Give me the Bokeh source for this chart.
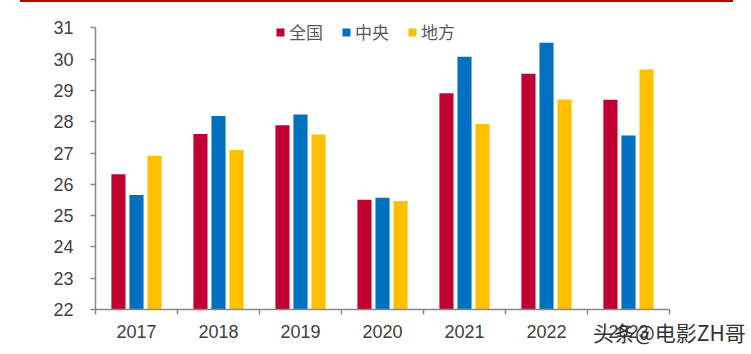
import numpy as np
from bokeh.plotting import figure
from bokeh.models import (ColumnDataSource, Range1d, FixedTicker, Legend, LegendItem, Div)
from bokeh.layouts import column
from bokeh.transform import dodge
from bokeh.embed import file_html
from bokeh.resources import INLINE

years = ["2017", "2018", "2019", "2020", "2021", "2022", "2023"]
quanguo = [26.32, 27.61, 27.89, 25.51, 28.91, 29.53, 28.70]
zhongyang = [25.66, 28.18, 28.23, 25.57, 30.08, 30.52, 27.56]
difang = [26.91, 27.10, 27.59, 25.47, 27.93, 28.71, 29.67]
series_names = ["全国", "中央", "地方"]
series_keys = ["quanguo", "zhongyang", "difang"]
colors = ["#C00031", "#0070C0", "#FFC000"]
y_ticks = list(range(22, 32))
watermark = "头条@电影ZH哥"

xpos = np.arange(len(years)) + 0.5
src = ColumnDataSource(dict(x=xpos, quanguo=quanguo, zhongyang=zhongyang, difang=difang))

p = figure(width=751, height=352, x_range=Range1d(0, len(years)), y_range=Range1d(22, 31.65),
           output_backend="svg", toolbar_location=None,
           min_border_left=95, min_border_right=82, min_border_top=5, min_border_bottom=45)
p.title.visible = False
p.outline_line_color = None
p.xgrid.visible = False
p.ygrid.visible = False
p.background_fill_color = "white"
p.border_fill_color = "white"

offsets = [-0.22, 0.0, 0.22]
renderers = []
for key, off, col in zip(series_keys, offsets, colors):
    r = p.vbar(x=dodge("x", off, range=p.x_range), top=key, bottom=22, width=0.172,
               source=src, fill_color=col, line_color=None)
    renderers.append(r)

axis_color = "#898989"
label_color = "#404040"

xa = p.xaxis[0]
xa.ticker = FixedTicker(ticks=list(xpos), minor_ticks=list(range(len(years) + 1)))
xa.major_label_overrides = {float(v): y for v, y in zip(xpos, years)}
xa.major_tick_out = 0
xa.major_tick_in = 0
xa.minor_tick_out = 5
xa.minor_tick_in = 0
xa.minor_tick_line_color = axis_color
xa.minor_tick_line_width = 1.5
xa.axis_line_color = axis_color
xa.axis_line_width = 1.5
xa.major_label_text_font = "Liberation Sans"
xa.major_label_text_font_size = "18px"
xa.major_label_text_color = label_color
xa.major_label_standoff = 10

ya = p.yaxis[0]
ya.ticker = FixedTicker(ticks=y_ticks, minor_ticks=[])
ya.bounds = (y_ticks[0], y_ticks[-1])
ya.major_tick_out = 5
ya.major_tick_in = 0
ya.major_tick_line_color = axis_color
ya.major_tick_line_width = 1.5
ya.axis_line_color = axis_color
ya.axis_line_width = 1.5
ya.major_label_text_font = "Liberation Sans"
ya.major_label_text_font_size = "18px"
ya.major_label_text_color = label_color
ya.major_label_standoff = 17

legend = Legend(items=[LegendItem(label=n, renderers=[r]) for n, r in zip(series_names, renderers)],
                orientation="horizontal", location=(180, 265),
                glyph_width=10, glyph_height=10, label_standoff=4, spacing=18,
                padding=0, margin=0, border_line_color=None, background_fill_alpha=0,
                label_text_font="Noto Sans CJK SC", label_text_font_size="17px",
                label_text_color="#595959", label_height=20, label_text_baseline="middle")
p.add_layout(legend)

topline = Div(text="", width=713, height=2, margin=(0, 0, 0, 20),
              styles={"background-color": "#C00000"})

wm = Div(text=f'<div style="font-family:\'Noto Sans CJK SC\';font-size:21px;color:#333333;'
              f'white-space:nowrap;line-height:28px">{watermark}</div>',
         width=156, height=28, margin=(-36, 0, 0, 593))

layout = column(topline, p, wm, spacing=0)
open("out.html", "w").write(file_html(layout, INLINE))
